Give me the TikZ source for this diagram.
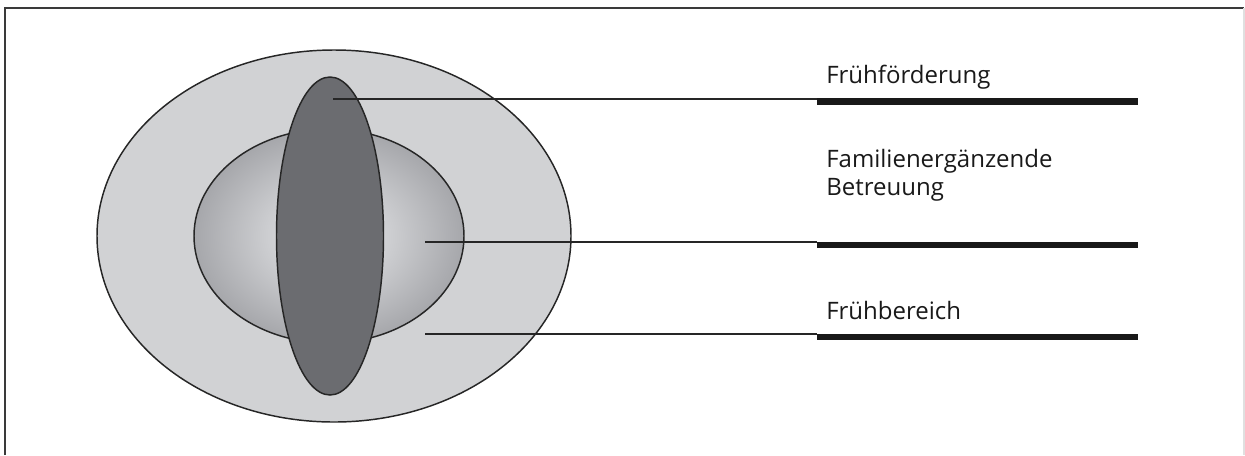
\documentclass[tikz,border=0pt]{standalone}
\usepackage{fontspec}
\setmainfont{Open Sans}
\usetikzlibrary{shapes.geometric}
\definecolor{outerfill}{HTML}{D1D2D4}
\definecolor{darkfill}{HTML}{6B6C70}
\definecolor{shadein}{HTML}{EDEEF0}
\definecolor{shadeout}{HTML}{A6A7AB}
\definecolor{framegray}{HTML}{3A3A3A}
\tikzset{
  outline/.style={draw=black!85, line width=1.1pt},
  leader/.style={draw=black!85, line width=0.8pt},
  bar/.style={draw=black!90, line width=5pt},
  lbl/.style={anchor=base west, inner sep=0pt, font=\fontsize{18pt}{21pt}\selectfont, align=left, text=black!90},
  frameline/.style={draw=framegray, line width=1.2pt}
}
\begin{document}
\begin{tikzpicture}[x=0.75pt,y=-0.75pt]
\useasboundingbox (0,0) rectangle (1245,455);
% frame
\coordinate (fbl) at (5,455);
\coordinate (ftl) at (5,8);
\coordinate (ftr) at (1244,8);
\coordinate (fbr) at (1244,455);
\draw[frameline] (fbl) -- (ftl) -- (ftr);
\draw[draw=black!12, line width=0.8pt] (ftr) -- (fbr);
% ellipses
\node[ellipse, outline, fill=outerfill, minimum width=474*0.75pt, minimum height=372*0.75pt, inner sep=0pt] (outer) at (334,236) {};
\shade[inner color=shadein, outer color=shadeout] (329,236) ellipse [x radius=135, y radius=107];
\node[ellipse, outline, minimum width=270*0.75pt, minimum height=214*0.75pt, inner sep=0pt] (inner) at (329,236) {};
\node[ellipse, outline, fill=darkfill, minimum width=107*0.75pt, minimum height=318*0.75pt, inner sep=0pt] (dark) at (330,236) {};
% leader start points
\coordinate (p1) at (333,99);
\coordinate (p2) at (425,242);
\coordinate (p3) at (425,334);
% bars
\coordinate (b1s) at (817,101.5);
\coordinate (b1e) at (1138,101.5);
\coordinate (b2s) at (817,245);
\coordinate (b2e) at (1138,245);
\coordinate (b3s) at (817,337);
\coordinate (b3e) at (1138,337);
\coordinate (q1) at (817,99);
\coordinate (q2) at (817,242);
\coordinate (q3) at (817,334);
\draw[leader] (p1) -- (q1);
\draw[leader] (p2) -- (q2);
\draw[leader] (p3) -- (q3);
\draw[bar] (b1s) -- (b1e);
\draw[bar] (b2s) -- (b2e);
\draw[bar] (b3s) -- (b3e);
% labels
\node[lbl] (l1) at (826,83) {Frühförderung};
\node[lbl] (l2) at (826,195) {Familienergänzende\\Betreuung};
\node[lbl] (l3) at (826,319) {Frühbereich};
\end{tikzpicture}
\end{document}
